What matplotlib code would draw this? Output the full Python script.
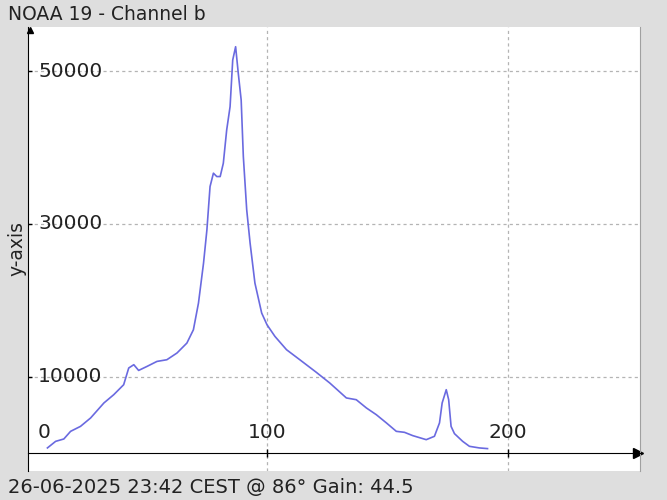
import matplotlib.pyplot as plt
from matplotlib import transforms

# values
samples = [9, 12.4, 15.8, 18.6, 22.7, 26.9, 32.4, 36.5, 40.6, 42.7,
           44.8, 46.8, 50.3, 54.4, 58.5, 62.7, 66.8, 69.5, 71.6, 73.7,
           75.1, 76.4, 77.8, 79.2, 80.6, 81.9, 83.3, 84.7, 85.8, 87.0,
           88.1, 89.3, 90.2, 91.6, 93.0, 95.0, 97.8, 100, 103.3, 108.1,
           113.6, 120.5, 126, 132.9, 137, 141.2, 145.3, 149.5, 153.6, 157,
           160.4, 166, 169.4, 171.5, 172.6, 174.3, 175.3, 176.3, 177.7, 181.1,
           183.9, 188, 191.4]
levels = [680, 1540, 1850, 2850, 3500, 4600, 6560, 7650, 8950, 11140,
          11570, 10820, 11350, 12000, 12220, 13100, 14400, 16140, 19630, 24860,
          29220, 34880, 36630, 36190, 36190, 37930, 42290, 45330, 51440, 53180,
          49700, 46210, 38800, 31830, 27480, 22250, 18330, 16800, 15270, 13530,
          12220, 10560, 9180, 7220, 6990, 5910, 5030, 3950, 2850, 2720,
          2290, 1760, 2200, 3950, 6560, 8300, 6990, 3500, 2550, 1540,
          890, 680, 590]

xticks = [100, 200]
yticks = [10000, 30000, 50000]

title = "NOAA 19 - Channel b"
footer = "26-06-2025 23:42 CEST @ 86\u00b0 Gain: 44.5"

W, H = 667, 500
fig = plt.figure(figsize=(W / 100, H / 100), dpi=100, facecolor='#dedede')
ax = fig.add_axes([28 / W, 1 - 471 / H, (640 - 28) / W, (471 - 27) / H])
ax.set_facecolor('white')

ax.plot(samples, levels, color='#6a6ae0', linewidth=1.2)

ax.set_xlim(0.95, 254.6)
ax.set_ylim(-2340, 55760)
ax.set_xticks(xticks)
ax.set_yticks(yticks)
ax.set_xticklabels([])
ax.set_yticklabels([])
ax.grid(True, linestyle=(0, (2.5, 2.5)), color='#b4b4b4', linewidth=0.9)
ax.tick_params(axis='x', direction='inout', length=6, width=1, color='black')
ax.tick_params(axis='y', direction='in', length=3, width=1, color='black')

ax.spines['top'].set_visible(False)
ax.spines['right'].set_color('#a0a0a0')
ax.spines['left'].set_color('black')
ax.spines['bottom'].set_position(('data', 0))
ax.spines['bottom'].set_color('black')

# arrow heads
xa = transforms.blended_transform_factory(ax.transAxes, ax.transData)
ax.plot([0.997], [0], marker='>', color='black', markersize=7,
        transform=xa, clip_on=False)
ax.plot([0.004], [0.993], marker='^', color='black', markersize=4,
        transform=ax.transAxes, clip_on=False)

lab = dict(fontsize=14.5, color='#222222', family='DejaVu Sans')
ya = transforms.blended_transform_factory(ax.transAxes, ax.transData)
for t in yticks:
    ax.annotate(str(t), xy=(0, t), xycoords=ya, xytext=(10, 0),
                textcoords='offset pixels', ha='left', va='center', **lab)
ax.annotate('0', xy=(0, 0), xycoords=ya, xytext=(10, 11),
            textcoords='offset pixels', ha='left', va='bottom', **lab)
for t in xticks:
    ax.annotate(str(t), xy=(t, 0), xycoords='data', xytext=(0, 11),
                textcoords='offset pixels', ha='center', va='bottom', **lab)

fig.text(8 / W, 1 - 20 / H, title, ha='left', va='baseline',
         fontsize=13.5, color='#222222')
fig.text(8 / W, 1 - 493 / H, footer, ha='left', va='baseline',
         fontsize=14, color='#222222')
fig.text(16.5 / W, 1 - 248 / H, 'y-axis', rotation=90, ha='center',
         va='center', fontsize=13.5, color='#222222')

fig.savefig('out.png', dpi=100, facecolor=fig.get_facecolor())
